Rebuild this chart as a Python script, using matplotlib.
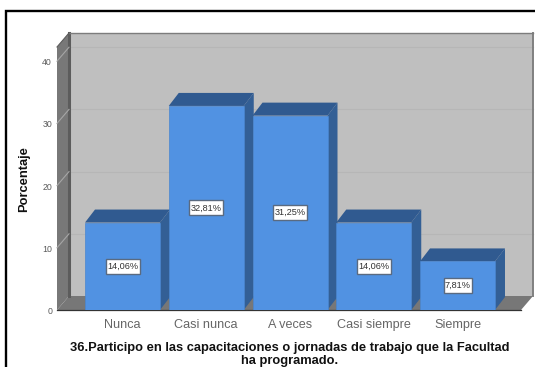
import matplotlib
matplotlib.use("Agg")
import matplotlib.pyplot as plt
from matplotlib.patches import Polygon, Rectangle

categories = ["Nunca", "Casi nunca", "A veces", "Casi siempre", "Siempre"]
values = [14.06, 32.81, 31.25, 14.06, 7.81]
labels = ["14,06%", "32,81%", "31,25%", "14,06%", "7,81%"]
yticks = [0, 10, 20, 30, 40]
ylabel = "Porcentaje"
xlabel = ["36.Participo en las capacitaciones o jornadas de trabajo que la Facultad", "ha programado."]

W, H = 535, 367
plt.rcParams["font.family"] = ["Liberation Sans", "DejaVu Sans"]
fig = plt.figure(figsize=(W / 100, H / 100), dpi=100, facecolor="white")

# frame around the chart (open to the right and bottom, as in the crop)
fig.add_artist(Rectangle((5.5 / W, -5 / H), 540 / W, (H - 11 + 5) / H, transform=fig.transFigure,
                         fill=False, ec="black", lw=1.7))

L, R, B, T = 57, 521, 310, 47
ax = fig.add_axes([L / W, 1 - B / H, (R - L) / W, (B - T) / H])
ppx = 83.75
ppy = 6.22
ax.set_xlim((L - 122.5) / ppx, (R - 122.5) / ppx)
ax.set_ylim(0, (B - T) / ppy)
ax.axis("off")
x0, x1 = ax.get_xlim()
y1 = ax.get_ylim()[1]
wdx, wdy = 12 / ppx, 14 / ppy
bw = 75 / ppx
bdx, bdy = 10 / ppx, 13 / ppy


def poly(pts, fc, ec="none", z=1, lw=0.6):
    ax.add_patch(Polygon(pts, closed=True, fc=fc, ec=ec, lw=lw, zorder=z, clip_on=False))


# back wall, side wall, floor
poly([(x0 + wdx, wdy), (x1 + wdx, wdy), (x1 + wdx, y1 + wdy), (x0 + wdx, y1 + wdy)], "#bfbfbf")
poly([(x0, 0), (x0 + wdx, wdy), (x0 + wdx, y1 + wdy), (x0, y1)], "#787878")
poly([(x0, 0), (x1, 0), (x1 + wdx, wdy), (x0 + wdx, wdy)], "#777777")
ax.plot([x0 + wdx, x0 + wdx], [wdy, y1 + wdy], color="#5c5c5c", lw=2.2, zorder=1.5, clip_on=False)
ax.plot([x1 + wdx, x1 + wdx], [wdy, y1 + wdy], color="#808080", lw=1.4, zorder=1.5, clip_on=False)
ax.plot([x0 + wdx, x1 + wdx], [y1 + wdy, y1 + wdy], color="#7c7c7c", lw=1.0, zorder=1.5, clip_on=False)
ax.plot([x0, x0 + wdx], [y1, y1 + wdy], color="#5c5c5c", lw=0.8, zorder=1.5, clip_on=False)

# gridlines on walls
for t in yticks[1:]:
    ax.plot([x0 + wdx, x1 + wdx], [t + wdy, t + wdy], color="#b6b6b6", lw=0.8, zorder=1.2, clip_on=False)
    ax.plot([x0, x0 + wdx], [t, t + wdy], color="#a6a6a6", lw=0.8, zorder=1.6, clip_on=False)
for t in yticks:
    ax.text(x0 - 5 / ppx, t - 1.5 / ppy, str(t), ha="right", va="center", fontsize=6.3, color="#5a5a5a")
ax.plot([x0, x1], [0, 0], color="#333333", lw=0.9, zorder=2, clip_on=False)

# bars
for i, (c, v, lab) in enumerate(zip(categories, values, labels)):
    l, r = i - bw / 2, i + bw / 2
    poly([(r, 0), (r + bdx, bdy), (r + bdx, v + bdy), (r, v)], "#335f95", z=3 + i)
    poly([(l, v), (r, v), (r + bdx, v + bdy), (l + bdx, v + bdy)], "#305a90", z=3 + i)
    ax.bar(i, v, width=bw, color="#5192e2", edgecolor="#4a86cf", linewidth=0.5, zorder=3.5 + i)
    bw_px = 34 if len(lab) == 6 else 28
    ax.add_patch(Rectangle((i - bw_px / 2 / ppx, v / 2 - 7.5 / ppy), bw_px / ppx, 15 / ppy,
                           fc="white", ec="#5a6a80", lw=1.0, zorder=19))
    ax.text(i, v / 2, lab, ha="center", va="center", fontsize=6.6, color="#333333", zorder=20)
    ax.text(i, -17.8 / ppy, c, ha="center", va="baseline", fontsize=9.1, color="#666666", clip_on=False)

fig.text(24 / W, 1 - 179 / H, ylabel, rotation=90, ha="center", va="center", fontsize=9.3, fontweight="bold", color="#111111")
fig.text(289.5 / W, 1 - 351.5 / H, xlabel[0], ha="center", va="baseline", fontsize=9.25, fontweight="bold", color="#111111")
fig.text(289.5 / W, 1 - 364 / H, xlabel[1], ha="center", va="baseline", fontsize=9.25, fontweight="bold", color="#111111")

fig.savefig("out.png", dpi=100)
